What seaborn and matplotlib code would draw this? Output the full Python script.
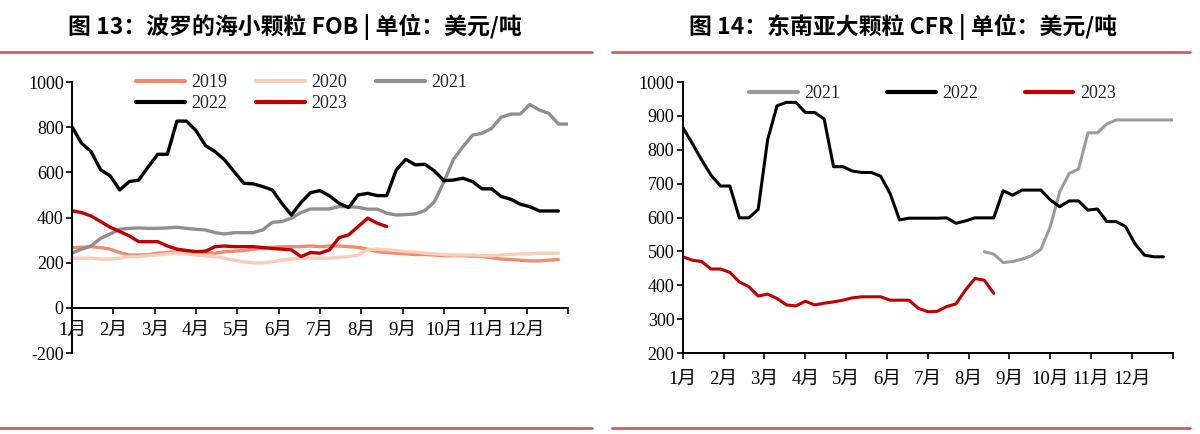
import numpy as np
import pandas as pd
import matplotlib
matplotlib.use('Agg')
import matplotlib.pyplot as plt
from matplotlib.lines import Line2D
import seaborn as sns

sns.set_theme(style='ticks')
plt.rcParams['font.family'] = ['Liberation Serif', 'Noto Sans CJK SC']
plt.rcParams['axes.unicode_minus'] = False

# ── data (weekly values, index 0 = first week of Jan) ────────────────────────
months = ['1月', '2月', '3月', '4月', '5月', '6月', '7月', '8月',
          '9月', '10月', '11月', '12月', '']

# Fig 13: Baltic small-grain FOB, USD/t
fob_2019 = [267, 268, 271, 267, 260, 245, 234, 234, 236, 242, 245, 249, 249,
            249, 245, 242, 249, 251, 254, 260, 263, 268, 271, 271, 271, 274,
            271, 274, 274, 271, 268, 260, 249, 245, 242, 239, 236, 236, 234,
            231, 231, 231, 229, 227, 222, 216, 214, 211, 208, 208, 211, 214]
fob_2020 = [220, 220, 220, 216, 216, 220, 227, 227, 231, 234, 239, 242, 239,
            234, 231, 227, 220, 211, 204, 199, 199, 204, 211, 216, 220, 220,
            220, 220, 224, 227, 234, 257, 260, 257, 254, 249, 247, 242, 239,
            236, 234, 234, 234, 231, 231, 234, 236, 239, 239, 242, 242, 242]
fob_2021 = [242, 260, 274, 308, 327, 348, 352, 354, 352, 352, 354, 357, 352,
            348, 345, 333, 327, 333, 333, 333, 345, 379, 382, 397, 422, 438,
            438, 438, 448, 448, 445, 437, 437, 419, 411, 413, 416, 431, 470,
            559, 658, 714, 765, 773, 795, 844, 858, 858, 901, 876, 861, 814, 814]
fob_2022 = [802, 729, 692, 611, 585, 522, 559, 566, 625, 680, 680, 827, 827,
            785, 718, 692, 655, 603, 552, 549, 537, 522, 463, 411, 466, 510,
            519, 496, 463, 444, 500, 507, 497, 497, 611, 658, 633, 636, 606,
            563, 566, 574, 559, 527, 527, 493, 481, 459, 448, 429, 429, 429]
fob_2023 = [430, 422, 407, 382, 357, 338, 319, 293, 293, 293, 274, 260, 254,
            249, 251, 271, 274, 271, 271, 271, 267, 263, 260, 257, 227, 245,
            242, 257, 311, 323, 360, 397, 375, 360]

# Fig 14: South-East Asia large-grain CFR, USD/t
cfr_2021_start = 32
cfr_2021 = [499, 492, 467, 470, 477, 487, 506, 573, 676, 730, 743, 850, 850,
            876, 888, 888, 888, 888, 888, 888, 888]
cfr_2022 = [866, 819, 770, 725, 693, 693, 599, 599, 624, 829, 930, 940, 940,
            910, 910, 891, 750, 750, 737, 733, 733, 722, 671, 593, 598, 598,
            598, 598, 599, 583, 590, 599, 599, 599, 679, 666, 681, 681, 681,
            652, 632, 649, 649, 622, 625, 588, 588, 573, 522, 489, 484, 484]
cfr_2023 = [484, 474, 470, 448, 448, 438, 410, 396, 368, 374, 361, 342, 339,
            353, 342, 347, 351, 356, 363, 366, 366, 366, 356, 356, 356, 332,
            322, 323, 337, 345, 386, 420, 415, 376]


def long_df(series):
    rows = []
    for name, (start, vals) in series.items():
        for i, v in enumerate(vals):
            rows.append({'week': start + i, 'price': v, 'year': name})
    return pd.DataFrame(rows)


df13 = long_df({'2019': (0, fob_2019), '2020': (0, fob_2020), '2021': (0, fob_2021),
                '2022': (0, fob_2022), '2023': (0, fob_2023)})
df14 = long_df({'2021': (cfr_2021_start, cfr_2021), '2022': (0, cfr_2022),
                '2023': (0, cfr_2023)})

pal13 = {'2019': '#F08C6E', '2020': '#F9CDB8', '2021': '#8F8F8F',
         '2022': '#000000', '2023': '#C00000'}
pal14 = {'2021': '#9B9B9B', '2022': '#000000', '2023': '#C00000'}

fig = plt.figure(figsize=(12, 4.34), dpi=100)
ax1 = fig.add_axes([0.06, 0.1866, 0.4133, 0.6244])
ax2 = fig.add_axes([0.569, 0.1866, 0.4083, 0.6244])

sns.lineplot(data=df13, x='week', y='price', hue='year', palette=pal13,
             linewidth=2.4, ax=ax1, legend=False)
sns.lineplot(data=df14, x='week', y='price', hue='year', palette=pal14,
             linewidth=2.2, ax=ax2, legend=False)

month_pos = np.arange(13) * 52 / 12
for ax in (ax1, ax2):
    ax.set_xlim(0, 52)
    ax.set_xticks(month_pos)
    ax.set_xticklabels(months)
    ax.set_xlabel('')
    ax.set_ylabel('')
    for s in ('top', 'right'):
        ax.spines[s].set_visible(False)
    for s in ('left', 'bottom'):
        ax.spines[s].set_linewidth(1.4)
        ax.spines[s].set_color('black')
    ax.tick_params(axis='both', direction='out', length=4, width=1.2,
                   labelsize=13, colors='black', pad=2)
    ax.tick_params(axis='x', labelsize=13.5)
    ax.grid(False)
    ax.set_facecolor('white')

ax1.set_ylim(-200, 1000)
ax1.set_yticks(np.arange(-200, 1001, 200))
ax1.spines['bottom'].set_position(('data', 0))
ax1.tick_params(axis='x', pad=6)
ax2.set_ylim(200, 1000)
ax2.set_yticks(np.arange(200, 1001, 100))
ax2.tick_params(axis='x', pad=9)

# legends
h13 = {k: Line2D([], [], color=c, lw=3) for k, c in pal13.items()}
order13 = ['2019', '2022', '2020', '2023', '2021']
ax1.legend([h13[k] for k in order13], order13, ncol=3, frameon=False,
           loc='upper left', bbox_to_anchor=(0.115, 1.055), fontsize=13,
           handlelength=2.7, handletextpad=0.35, columnspacing=1.6,
           labelspacing=0.2, borderaxespad=0)
h14 = [Line2D([], [], color=c, lw=3) for c in pal14.values()]
ax2.legend(h14, list(pal14.keys()), ncol=3, frameon=False,
           loc='center left', bbox_to_anchor=(0.12, 0.957), fontsize=13,
           handlelength=2.7, handletextpad=0.35, columnspacing=2.6,
           borderaxespad=0)

# titles and rules
title_font = ['Noto Sans CJK SC', 'DejaVu Sans']
fig.text(295 / 1200, 1 - 27 / 434, '图 13：波罗的海小颗粒 FOB | 单位：美元/吨',
         ha='center', va='center', fontsize=16.5, fontweight='bold',
         color='black', family=title_font)
fig.text(903 / 1200, 1 - 27 / 434, '图 14：东南亚大颗粒 CFR | 单位：美元/吨',
         ha='center', va='center', fontsize=16.5, fontweight='bold',
         color='black', family=title_font)

rule = '#C8605C'
for y in (1 - 52 / 434, 1 - 428 / 434):
    fig.add_artist(Line2D([0, 592 / 1200], [y, y], color=rule, lw=2))
    fig.add_artist(Line2D([612 / 1200, 1190 / 1200], [y, y], color=rule, lw=2))

plt.savefig('out.png', dpi=100, facecolor='white')
plt.close()
